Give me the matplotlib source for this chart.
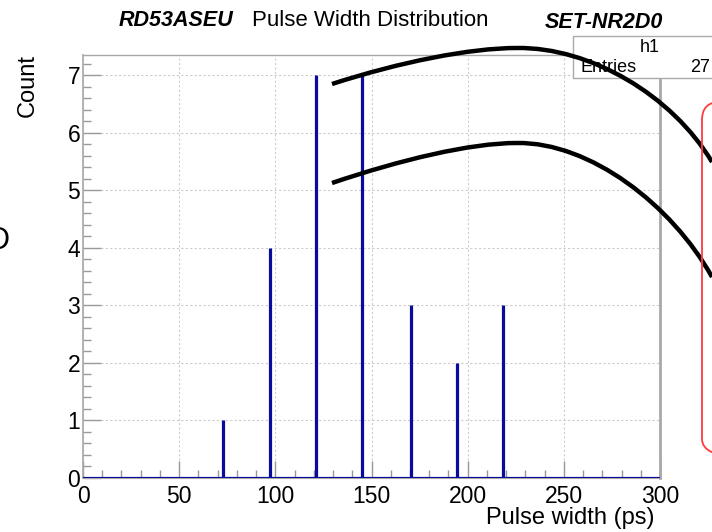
import matplotlib
matplotlib.use("Agg")
import matplotlib.pyplot as plt
from matplotlib.path import Path
from matplotlib.patches import PathPatch, FancyBboxPatch, Rectangle
from matplotlib.transforms import Affine2D

# pulse width bins (ps) and counts per bin
pulse_width = [72.6, 97.2, 121.1, 145.3, 170.4, 194.3, 218.2]
counts = [1, 4, 7, 7, 3, 2, 3]
hist_name = "h1"
n_entries = sum(counts)

W, H = 712, 532
plt.rcParams["font.family"] = ["Liberation Sans", "DejaVu Sans"]

fig = plt.figure(figsize=(W / 100, H / 100), dpi=100)
ax = fig.add_axes([83 / W, 1 - 478 / H, 577 / W, 423 / H])

HIST_BLUE = "#0a0a9c"
FRAME = "#a8a8a8"

ax.vlines(pulse_width, 0, counts, color=HIST_BLUE, lw=2.3, zorder=3)
ax.axhline(0, color=HIST_BLUE, lw=2.3, zorder=3)

ax.set_xlim(0, 300)
ax.set_ylim(0, 7.35)
ax.set_xticks(range(0, 301, 50))
ax.set_xticks(range(0, 301, 10), minor=True)
ax.set_yticks(range(0, 8))
ax.set_yticks([i * 0.2 for i in range(37)], minor=True)

ax.grid(True, which="major", color="#cccccc", ls=(0, (2, 2)), lw=0.8)
for s in ax.spines.values():
    s.set_color(FRAME)
ax.spines["right"].set_linewidth(2.0)
ax.spines["left"].set_linewidth(1.2)
ax.spines["top"].set_linewidth(1.0)

ax.tick_params(axis="both", which="both", direction="in", color="#999999",
               labelsize=16.5, labelcolor="black")
ax.tick_params(axis="y", which="major", length=13, width=1, pad=2)
ax.tick_params(axis="y", which="minor", length=6, width=1)
ax.tick_params(axis="x", which="major", length=12, width=1, pad=5)
ax.tick_params(axis="x", which="minor", length=6, width=1)

# axis titles, ROOT style (right/top aligned)
fig.text(655 / W, 1 - 518 / H, "Pulse width (ps)", ha="right", va="center", fontsize=17)
fig.text(28 / W, 1 - 54 / H, "Count", rotation=90, ha="center", va="top", fontsize=17)

# title pieces
fig.text(176 / W, 1 - 21 / H, "RD53ASEU", ha="center", va="center", fontsize=15.5,
         fontweight="bold", style="italic")
fig.text(370 / W, 1 - 20 / H, "Pulse Width Distribution", ha="center", va="center", fontsize=16)
fig.text(604 / W, 1 - 22 / H, "SET-NR2D0", ha="center", va="center", fontsize=15.5,
         fontweight="bold", style="italic")

# pixel -> figure coordinates (origin top-left)
px = Affine2D().scale(1 / W, -1 / H).translate(0, 1) + fig.transFigure

# stats box
fig.patches.append(Rectangle((573, 36), 160, 42, transform=px, facecolor="white",
                             edgecolor="#aaaaaa", lw=1.0, zorder=4))
fig.lines.append(plt.Line2D([573, 733], [57, 57], transform=px, color="#aaaaaa", lw=1.0, zorder=4))
fig.text(650 / W, 1 - 47 / H, hist_name, ha="center", va="center", fontsize=13, zorder=5)
fig.text(581 / W, 1 - 68 / H, "Entries", ha="left", va="center", fontsize=13, zorder=5)
fig.text(710 / W, 1 - 68 / H, f"{n_entries}", ha="right", va="center", fontsize=13, zorder=5)

# black arcs drawn over the plot
C4 = Path.CURVE4
arcs = [
    [(332, 84), (400, 62), (470, 48), (517, 48), (590, 47), (672, 95), (712, 162)],
    [(332, 183), (400, 160), (470, 143), (517, 143), (590, 142), (672, 205), (712, 277)],
]
for pts in arcs:
    path = Path(pts, [Path.MOVETO, C4, C4, C4, C4, C4, C4])
    fig.patches.append(PathPatch(path, transform=px, facecolor="none", edgecolor="black",
                                 lw=3.2, capstyle="butt", zorder=6))

# red rounded frame at the right edge
fig.patches.append(FancyBboxPatch((702, 102), 60, 355, transform=px,
                                  boxstyle="round,pad=0,rounding_size=18",
                                  facecolor="none", edgecolor="#ff3b3b", lw=1.3, zorder=6))

# letter cut off at the left edge
fig.text(-12 / W, 1 - 241 / H, "D", ha="left", va="center", fontsize=22)

fig.savefig("out.png", dpi=100)
